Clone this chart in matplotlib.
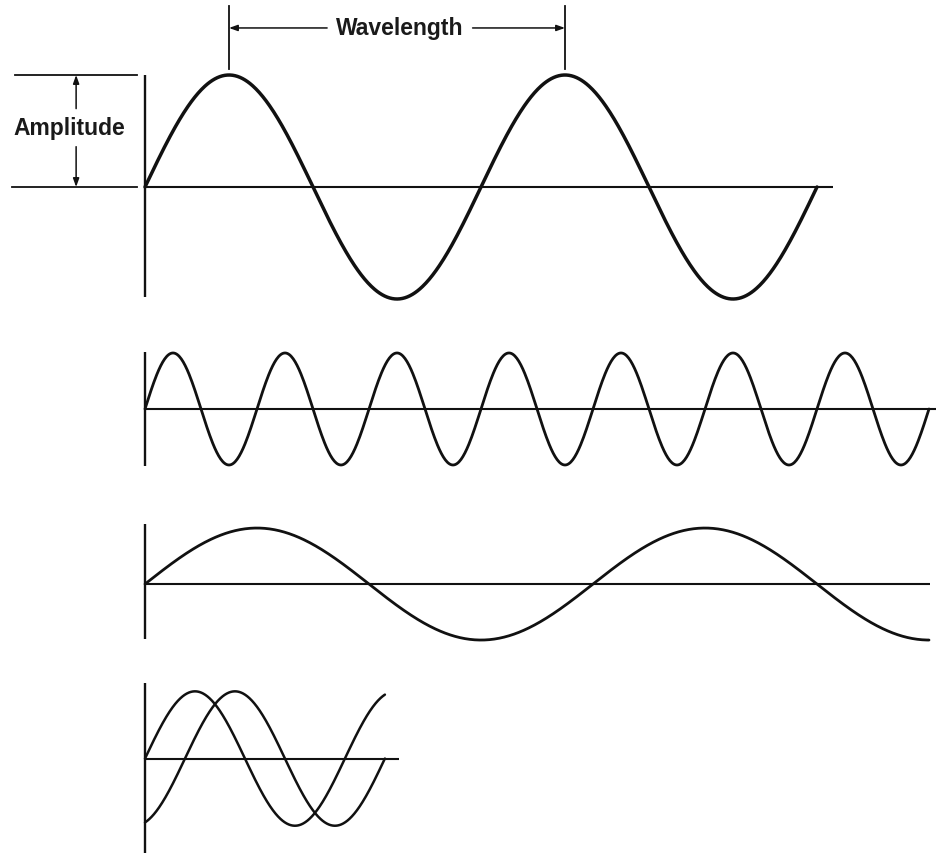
import numpy as np
import matplotlib
matplotlib.use("Agg")
import matplotlib.pyplot as plt

# ---- wave parameters (x in units of the top wavelength, y in units of the top amplitude)
panel_names = ["reference", "short wavelength", "long wavelength", "phase shift"]
panel_centers = [0.0, -1.982, -3.545, -5.103]      # vertical position of each baseline
panel_axis_top = [1.0, 0.51, 0.54, 0.67]           # vertical axis extent above baseline
panel_axis_bottom = [-0.98, -0.51, -0.49, -0.84]   # vertical axis extent below baseline
baseline_end = [2.048, 2.357, 2.336, 0.756]        # where each horizontal baseline ends

# waves: (panel index, wavelength, amplitude, cycles drawn, phase offset in wavelengths)
wave_panel = [0, 1, 2, 3, 3]
wave_length = [1.0, 1 / 3, 4 / 3, 0.595, 0.595]
wave_amp = [1.0, 0.5, 0.5, 0.6, 0.6]
wave_cycles = [2.0, 7.0, 1.75, 1.2, 1.2]
wave_phase = [0.0, 0.0, 0.0, 0.0, -0.2]
wave_lw = [2.5, 2.0, 2.0, 1.8, 1.8]

fig = plt.figure(figsize=(9.37, 8.54), dpi=100)
ax = fig.add_axes([0, 0, 1, 1])
ax.set_xlim(-145 / 336, (937 - 145) / 336)
ax.set_ylim((188 - 854) / 112, 188 / 112)
ax.axis("off")

ink = "#111111"

# axes and baselines
for c, top, bot, end in zip(panel_centers, panel_axis_top, panel_axis_bottom, baseline_end):
    ax.plot([0, 0], [c + bot, c + top], color=ink, lw=1.7, solid_capstyle="butt")
    ax.plot([0, end], [c, c], color=ink, lw=1.5, solid_capstyle="butt")

# waves
for p, L, A, n, ph, lw in zip(wave_panel, wave_length, wave_amp, wave_cycles, wave_phase, wave_lw):
    x = np.linspace(0, n * L, 800)
    y = A * np.sin(2 * np.pi * (x / L + ph))
    ax.plot(x, panel_centers[p] + y, color=ink, lw=lw, solid_capstyle="round")

# amplitude annotation
ax.plot([-0.387, -0.024], [1, 1], color=ink, lw=1.3)
ax.plot([-0.395, -0.024], [0, 0], color=ink, lw=1.3)
arr = dict(arrowstyle="-|>,head_length=0.5,head_width=0.18", color=ink, lw=1.1,
           shrinkA=0, shrinkB=0)
ax.annotate("", xy=(-0.205, 1.0), xytext=(-0.205, 0.70), arrowprops=arr)
ax.annotate("", xy=(-0.205, 0.0), xytext=(-0.205, 0.36), arrowprops=arr)
ax.text(-0.226, 0.535, "Amplitude", ha="center", va="center", fontsize=16.5,
        family="Liberation Sans", weight="bold", color="#1a1a1a")

# wavelength annotation
ax.plot([0.25, 0.25], [1.054, 1.616], color=ink, lw=1.3)
ax.plot([1.25, 1.25], [1.054, 1.616], color=ink, lw=1.3)
ax.annotate("", xy=(0.25, 1.42), xytext=(0.542, 1.42), arrowprops=arr)
ax.annotate("", xy=(1.25, 1.42), xytext=(0.975, 1.42), arrowprops=arr)
ax.text(0.757, 1.42, "Wavelength", ha="center", va="center", fontsize=16.5,
        family="Liberation Sans", weight="bold", color="#1a1a1a")

fig.savefig("out.png", dpi=100, facecolor="white")
